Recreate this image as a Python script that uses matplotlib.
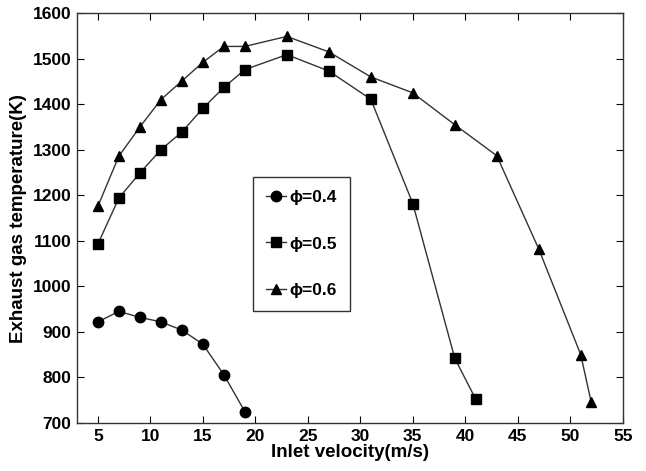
import matplotlib
matplotlib.use("Agg")
import matplotlib.pyplot as plt

plt.rcParams["font.family"] = ["Liberation Sans", "DejaVu Sans"]
plt.rcParams["font.weight"] = "bold"

# inlet velocity (m/s) and exhaust gas temperature (K) per equivalence ratio
v_04 = [5, 7, 9, 11, 13, 15, 17, 19]
t_04 = [922, 945, 932, 922, 904, 873, 806, 725]

v_05 = [5, 7, 9, 11, 13, 15, 17, 19, 23, 27, 31, 35, 39, 41]
t_05 = [1093, 1194, 1249, 1300, 1339, 1391, 1437, 1476, 1509, 1473, 1411, 1182, 842, 752]

v_06 = [5, 7, 9, 11, 13, 15, 17, 19, 23, 27, 31, 35, 39, 43, 47, 51, 52]
t_06 = [1176, 1286, 1350, 1410, 1451, 1492, 1527, 1527, 1549, 1515, 1460, 1425, 1355, 1287, 1082, 850, 745]

labels = ["\u03d5=0.4", "\u03d5=0.5", "\u03d5=0.6"]
x_ticks = [5, 10, 15, 20, 25, 30, 35, 40, 45, 50, 55]
y_ticks = [700, 800, 900, 1000, 1100, 1200, 1300, 1400, 1500, 1600]

fig = plt.figure(figsize=(6.46, 4.71), dpi=100)
ax = fig.add_axes([0.119, 0.102, 0.845, 0.870])

for v, t, m, lab in [(v_04, t_04, "o", labels[0]),
                     (v_05, t_05, "s", labels[1]),
                     (v_06, t_06, "^", labels[2])]:
    ax.plot(v, t, color="#333333", lw=1.0, marker=m, markersize=7.5,
            markerfacecolor="black", markeredgecolor="black", label=lab)

ax.set_xlim(3, 55)
ax.set_ylim(700, 1600)
ax.set_xticks(x_ticks)
ax.set_yticks(y_ticks)
ax.tick_params(direction="in", top=True, right=True, length=5, labelsize=12.5,
               width=0.8, pad=4)
for lab in ax.get_xticklabels() + ax.get_yticklabels():
    lab.set_fontweight("bold")
for s in ax.spines.values():
    s.set_linewidth(1.0)
    s.set_color("#333333")

ax.set_xlabel("Inlet velocity(m/s)", fontsize=13.5, fontweight="bold", labelpad=0)
ax.set_ylabel("Exhaust gas temperature(K)", fontsize=13.5, fontweight="bold", labelpad=4)

leg = ax.legend(loc="upper left", bbox_to_anchor=(253 / 646, 1 - 177 / 471),
                bbox_transform=fig.transFigure, borderaxespad=0, fancybox=False,
                framealpha=1, edgecolor="#333333", labelspacing=1.8,
                handlelength=1.15, handletextpad=0.2, borderpad=0.75,
                prop={"size": 12.5, "weight": "bold"})
leg.get_frame().set_linewidth(1.0)

fig.savefig("out.png", dpi=100)
